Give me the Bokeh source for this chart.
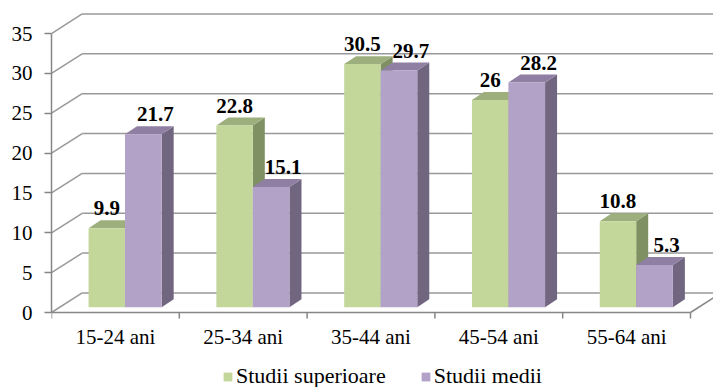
from bokeh.plotting import figure
from bokeh.models import FixedTicker, Legend, LegendItem, Range1d
from bokeh.core.properties import value
from bokeh.embed import file_html
from bokeh.resources import INLINE

# ---- data -------------------------------------------------------------
categories = ["15-24 ani", "25-34 ani", "35-44 ani", "45-54 ani", "55-64 ani"]
studii_superioare = [9.9, 22.8, 30.5, 26, 10.8]
studii_medii = [21.7, 15.1, 29.7, 28.2, 5.3]
series_names = ["Studii superioare", "Studii medii"]
y_ticks = [0, 5, 10, 15, 20, 25, 30, 35]

# ---- styling / pseudo-3D geometry (data units) ----------------------------
FONT = "Liberation Serif"
GRID_COLOR = "#999999"
AXIS_COLOR = "#868686"
GREEN = {"front": "#C4D79B", "top": "#9CAF7C", "side": "#7F9162"}
PURPLE = {"front": "#B3A2C7", "top": "#8F7FA3", "side": "#71667F"}

PX_Y = 7.971                      # pixels per value unit
WALL_DX, WALL_DY = 0.240, 2.45    # depth of the back wall
BAR_DX, BAR_DY = 0.094, 1.0       # depth of each bar
BASE = 0.66                       # bars stand a little behind the front edge
GREEN_SPAN = (0.29, 0.575)
PURPLE_SPAN = (0.575, 0.862)
LABEL_GAP = 2.5                   # value label baseline above the bar top

# the frame runs to the bottom of the canvas so the category axis and the
# legend can be drawn inside it
p = figure(width=713, height=387, output_backend="svg", toolbar_location=None,
           x_range=Range1d(0, 5.18), y_range=Range1d(-75.0 / PX_Y, 302.0 / PX_Y),
           min_border_left=51, min_border_right=0, min_border_top=10,
           min_border_bottom=0)
p.outline_line_color = None
p.xgrid.visible = False
p.ygrid.visible = False
p.xaxis.visible = False
p.background_fill_color = "white"

n_cat = len(categories)

# back wall and left side wall gridlines
back_x0 = [WALL_DX] * len(y_ticks)
back_x1 = [n_cat + WALL_DX + 1] * len(y_ticks)
back_y = [t + WALL_DY for t in y_ticks]
p.segment(back_x0, back_y, back_x1, back_y, line_color=GRID_COLOR, line_width=1.5)
p.segment([0] * len(y_ticks), y_ticks, back_x0, back_y,
          line_color=GRID_COLOR, line_width=1.5)
# right edge of the floor
p.segment([n_cat], [0], [n_cat + WALL_DX], [WALL_DY],
          line_color=AXIS_COLOR, line_width=1.5)


def bar_faces(vals, span):
    fx, fy, tx, ty, sx, sy = [], [], [], [], [], []
    for i, v in enumerate(vals):
        l, r = i + span[0], i + span[1]
        b, t = BASE, BASE + v
        fx.append([l, r, r, l]); fy.append([b, b, t, t])
        tx.append([l, r, r + BAR_DX, l + BAR_DX]); ty.append([t, t, t + BAR_DY, t + BAR_DY])
        sx.append([r, r + BAR_DX, r + BAR_DX, r]); sy.append([b, b + BAR_DY, t + BAR_DY, t])
    return (fx, fy), (tx, ty), (sx, sy)


legend_items = []
for name, vals, span, colors, label_shift in (
        (series_names[0], studii_superioare, GREEN_SPAN, GREEN, 0.0),
        (series_names[1], studii_medii, PURPLE_SPAN, PURPLE, BAR_DX)):
    front, top, side = bar_faces(vals, span)
    p.patches(side[0], side[1], fill_color=colors["side"], line_color=None)
    p.patches(top[0], top[1], fill_color=colors["top"], line_color=None)
    r_front = p.patches(front[0], front[1], fill_color=colors["front"], line_color=None)
    legend_items.append(LegendItem(label=name, renderers=[r_front]))

    lx = [i + (span[0] + span[1]) / 2 + label_shift for i in range(n_cat)]
    ly = [BASE + v + LABEL_GAP for v in vals]
    p.text(lx, ly, text=[f"{v:g}" for v in vals], text_font=value(FONT),
           text_font_style="bold", text_font_size="21px", text_color="black",
           text_align="center", text_baseline="alphabetic")

# category axis along the front edge of the floor
bounds = list(range(n_cat + 1))
p.segment([0], [0], [n_cat], [0], line_color=AXIS_COLOR, line_width=1.5)
p.segment(bounds, [0] * len(bounds), bounds, [-6.0 / PX_Y] * len(bounds),
          line_color=AXIS_COLOR, line_width=1.5)
centers = [i + 0.5 for i in range(n_cat)]
p.text(centers, [-24.0 / PX_Y] * n_cat, text=categories, text_font=value(FONT),
       text_font_size="21px", text_color="black", text_align="center",
       text_baseline="alphabetic")

# value axis (front edge)
p.yaxis.bounds = (0, 35)
p.yaxis.ticker = FixedTicker(ticks=y_ticks, minor_ticks=[])
p.yaxis.axis_line_color = AXIS_COLOR
p.yaxis.axis_line_width = 1.5
p.yaxis.major_tick_line_color = AXIS_COLOR
p.yaxis.major_tick_line_width = 1.5
p.yaxis.major_tick_out = 7
p.yaxis.major_tick_in = 0
p.yaxis.major_label_standoff = 12
p.yaxis.major_label_text_font = FONT
p.yaxis.major_label_text_font_size = "21px"
p.yaxis.major_label_text_color = "black"

legend = Legend(items=legend_items, orientation="horizontal", location=(171, -2),
                border_line_color=None, background_fill_alpha=0, padding=0, margin=0,
                spacing=34, label_standoff=3, glyph_width=11, glyph_height=11,
                label_text_font=FONT, label_text_font_size="22px", label_text_color="black")
p.add_layout(legend)

open("out.html", "w").write(file_html(p, INLINE))
